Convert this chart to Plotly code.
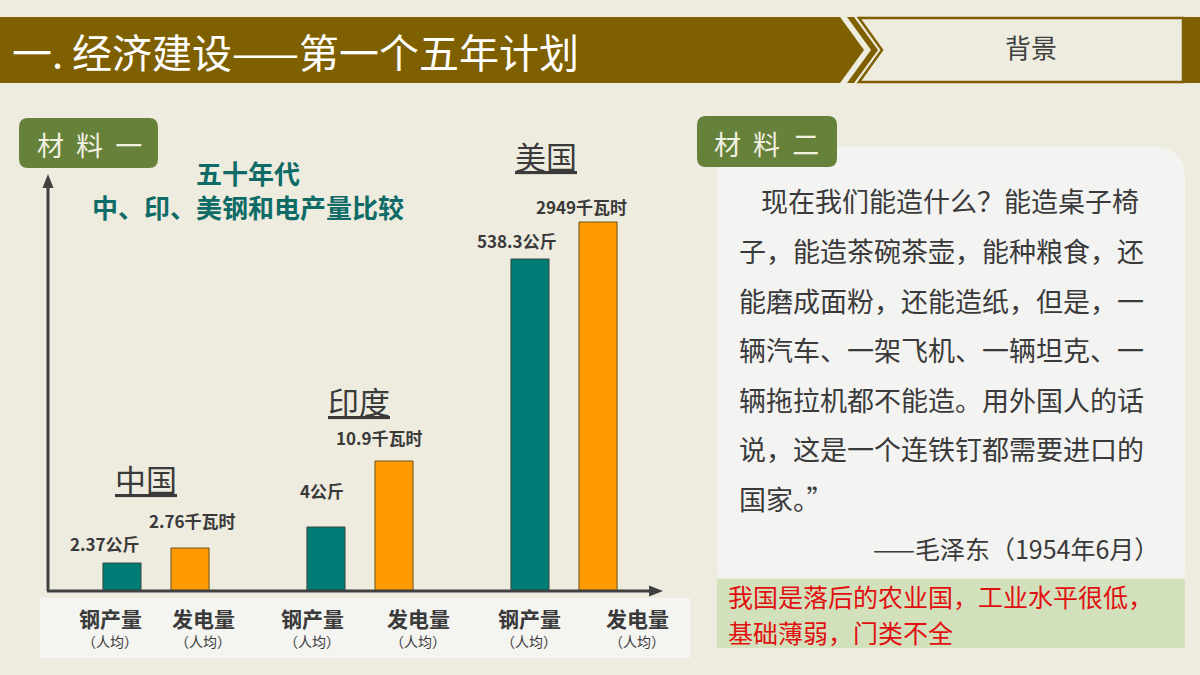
import plotly.graph_objects as go

W, H = 1200, 675

# ---------------- data ----------------
countries = ["中国", "印度", "美国"]
steel_labels = ["2.37公斤", "4公斤", "538.3公斤"]
power_labels = ["2.76千瓦时", "10.9千瓦时", "2949千瓦时"]
# schematic bar heights as drawn on the slide (the slide is not to scale)
steel_heights = [28, 64, 332]
power_heights = [43, 130, 369]
tick_main = ["钢产量", "发电量"]
tick_sub = "（人均）"
chart_title = ["五十年代", "中、印、美钢和电产量比较"]
page_title = "一. 经济建设——第一个五年计划"
section = "背景"
tag1 = "材  料  一"
tag2 = "材  料  二"
quote_lines = [
    "现在我们能造什么？能造桌子椅",
    "子，能造茶碗茶壶，能种粮食，还",
    "能磨成面粉，还能造纸，但是，一",
    "辆汽车、一架飞机、一辆坦克、一",
    "辆拖拉机都不能造。用外国人的话",
    "说，这是一个连铁钉都需要进口的",
    "国家。”",
]
attribution = "——毛泽东（1954年6月）"
conclusion_lines = ["我国是落后的农业国，工业水平很低，", "基础薄弱，门类不全"]

# ---------------- styles ----------------
BG = "#EEEBDF"
BROWN = "#7F6000"
GREEN = "#66823A"
TEAL = "#007C76"
ORANGE = "#FF9900"
TXT = "#3A3A3A"
FONT = "Noto Sans CJK SC"


def px(x):
    return x / W


def py(y):
    return 1 - y / H


def poly(pts):
    s = "M " + " L ".join(f"{px(x)},{py(y)}" for x, y in pts) + " Z"
    return s


def rrect(x0, y0, x1, y1, r, tr_r=None):
    tr = r if tr_r is None else tr_r
    p = []
    p.append(f"M {px(x0 + r)},{py(y0)}")
    p.append(f"L {px(x1 - tr)},{py(y0)}")
    p.append(f"Q {px(x1)},{py(y0)} {px(x1)},{py(y0 + tr)}")
    p.append(f"L {px(x1)},{py(y1 - r)}")
    p.append(f"Q {px(x1)},{py(y1)} {px(x1 - r)},{py(y1)}")
    p.append(f"L {px(x0 + r)},{py(y1)}")
    p.append(f"Q {px(x0)},{py(y1)} {px(x0)},{py(y1 - r)}")
    p.append(f"L {px(x0)},{py(y0 + r)}")
    p.append(f"Q {px(x0)},{py(y0)} {px(x0 + r)},{py(y0)}")
    p.append("Z")
    return " ".join(p)


fig = go.Figure()

fig.add_trace(go.Bar(
    x=countries, y=steel_heights, name="钢产量",
    marker=dict(color=TEAL, line=dict(color="#3d4a40", width=1)),
    hoverinfo="skip",
))
fig.add_trace(go.Bar(
    x=countries, y=power_heights, name="发电量",
    marker=dict(color=ORANGE, line=dict(color="#6b5420", width=1)),
    hoverinfo="skip",
))

shapes = []
ann = []

# title banner
shapes.append(dict(type="path", xref="paper", yref="paper", layer="below",
                   path=poly([(0, 17), (840, 17), (864, 50), (840, 83), (0, 83)]),
                   fillcolor=BROWN, line=dict(width=0)))
shapes.append(dict(type="path", xref="paper", yref="paper", layer="below",
                   path=poly([(847, 17), (854, 17), (878, 50), (854, 83), (847, 83), (871, 50)]),
                   fillcolor=BROWN, line=dict(width=0)))
shapes.append(dict(type="path", xref="paper", yref="paper", layer="below",
                   path=poly([(859, 18), (1183, 18), (1183, 82), (859, 82), (882, 50)]),
                   fillcolor=BG, line=dict(color=BROWN, width=2.5)))
shapes.append(dict(type="rect", xref="paper", yref="paper", layer="below",
                   x0=px(1183), x1=px(1200), y0=py(83), y1=py(17),
                   fillcolor=BROWN, line=dict(width=0)))
ann.append(dict(text=page_title, x=px(10), y=py(51), xanchor="left", yanchor="middle",
                font=dict(family=FONT, size=40, color="#FFFFFF")))
ann.append(dict(text=section, x=px(1031), y=py(46), xanchor="center", yanchor="middle",
                font=dict(family=FONT, size=26, color="#404040")))

# 材料一 tag
shapes.append(dict(type="path", xref="paper", yref="paper", layer="below",
                   path=rrect(19, 118, 158, 168, 9), fillcolor=GREEN, line=dict(width=0)))
ann.append(dict(text=tag1, x=px(89), y=py(144), xanchor="center", yanchor="middle",
                font=dict(family=FONT, size=27, color="#F2F1E4")))

# chart title (two centred lines)
ann.append(dict(text="<b>" + chart_title[0] + "</b><br><b>" + chart_title[1] + "</b>",
                x=px(248), y=py(190), xanchor="center", yanchor="middle", align="center",
                font=dict(family=FONT, size=26, color="#0E6B66")))

# label band under axis
shapes.append(dict(type="rect", xref="paper", yref="paper", layer="below",
                   x0=px(40), x1=px(690), y0=py(658), y1=py(598),
                   fillcolor="#F4F4F1", line=dict(width=0)))

# axes with arrows
AX = "#404040"
shapes.append(dict(type="line", xref="paper", yref="paper", x0=px(48), x1=px(48),
                   y0=py(591), y1=py(186), line=dict(color=AX, width=3)))
shapes.append(dict(type="path", xref="paper", yref="paper",
                   path=poly([(48, 174), (42.5, 188), (53.5, 188)]), fillcolor=AX, line=dict(width=0)))
shapes.append(dict(type="line", xref="paper", yref="paper", x0=px(47), x1=px(652),
                   y0=py(591), y1=py(591), line=dict(color=AX, width=3)))
shapes.append(dict(type="path", xref="paper", yref="paper",
                   path=poly([(663, 591), (649, 585.5), (649, 596.5)]), fillcolor=AX, line=dict(width=0)))

# value labels (relative to bar tops)
GOFF = 34
steel_dx = [-17, -4, -13]
steel_dy = [20, 37, 19]
power_dx = [2, -15, -17]
power_dy = [28, 24, 16]
for i, c in enumerate(countries):
    ann.append(dict(text="<b>" + steel_labels[i] + "</b>", xref="x", yref="y", x=c, y=steel_heights[i],
                    xshift=-GOFF + steel_dx[i], yshift=steel_dy[i], xanchor="center", yanchor="middle",
                    font=dict(family=FONT, size=17, color=TXT)))
    ann.append(dict(text="<b>" + power_labels[i] + "</b>", xref="x", yref="y", x=c, y=power_heights[i],
                    xshift=GOFF + power_dx[i], yshift=power_dy[i], xanchor="center", yanchor="middle",
                    font=dict(family=FONT, size=17, color=TXT)))

# country names (underlined)
country_dx = [-10, -1, -18]
country_y = [478, 400, 155]
for i, c in enumerate(countries):
    ann.append(dict(text=c, xref="x", yref="paper", x=c, y=py(country_y[i]), xshift=country_dx[i],
                    xanchor="center", yanchor="middle",
                    font=dict(family=FONT, size=31, color=TXT, lineposition="under")))

# category labels
tick_dx = [[-12, 13], [-14, 24], [-1, 39]]
for i, c in enumerate(countries):
    for j in range(2):
        off = (-GOFF if j == 0 else GOFF) + tick_dx[i][j]
        ann.append(dict(text="<b>" + tick_main[j] + "</b>", xref="x", yref="paper", x=c, y=py(618),
                        xshift=off, xanchor="center", yanchor="middle",
                        font=dict(family=FONT, size=21, color=TXT)))
        ann.append(dict(text=tick_sub, xref="x", yref="paper", x=c, y=py(641),
                        xshift=off, xanchor="center", yanchor="middle",
                        font=dict(family=FONT, size=14, color=TXT)))

# right panel
shapes.append(dict(type="path", xref="paper", yref="paper", layer="below",
                   path=rrect(718, 147, 1185, 578, 6, tr_r=32), fillcolor="#F3F3F2", line=dict(width=0)))
shapes.append(dict(type="rect", xref="paper", yref="paper", layer="below",
                   x0=px(717), x1=px(1185), y0=py(648), y1=py(579),
                   fillcolor="#D3E0BC", line=dict(width=0)))
shapes.append(dict(type="path", xref="paper", yref="paper", layer="below",
                   path=rrect(697, 116, 837, 167, 9), fillcolor=GREEN, line=dict(width=0)))
ann.append(dict(text=tag2, x=px(766), y=py(143), xanchor="center", yanchor="middle",
                font=dict(family=FONT, size=27, color="#F2F1E4")))

for k, line in enumerate(quote_lines):
    x0 = 759 if k == 0 else 737
    ann.append(dict(text=line, x=px(x0), y=py(201 + 49.5 * k), xanchor="left", yanchor="middle",
                    font=dict(family=FONT, size=27, color=TXT)))
ann.append(dict(text=attribution, x=px(1161), y=py(548), xanchor="right", yanchor="middle",
                font=dict(family=FONT, size=25, color=TXT)))
for k, line in enumerate(conclusion_lines):
    ann.append(dict(text=line, x=px(726), y=py(596 + 36 * k), xanchor="left", yanchor="middle",
                    font=dict(family=FONT, size=25, color="#E01010")))

for a in ann:
    a.setdefault("xref", "paper")
    a.setdefault("yref", "paper")
    a["showarrow"] = False

fig.update_layout(
    width=W, height=H,
    margin=dict(l=0, r=0, t=0, b=0),
    paper_bgcolor=BG, plot_bgcolor="rgba(0,0,0,0)",
    showlegend=False,
    barmode="group", bargap=0.333, bargroupgap=0.44,
    xaxis=dict(domain=[px(54), px(666)], range=[-0.5, 2.5], visible=False, fixedrange=True),
    yaxis=dict(domain=[py(591), py(178)], range=[0, 413], visible=False, fixedrange=True),
    shapes=shapes,
    annotations=ann,
    font=dict(family=FONT),
)

fig.write_html(
    "out.html",
    config={"displayModeBar": False},
    post_script="document.body.style.margin='0';document.body.style.background='" + BG + "';",
)
